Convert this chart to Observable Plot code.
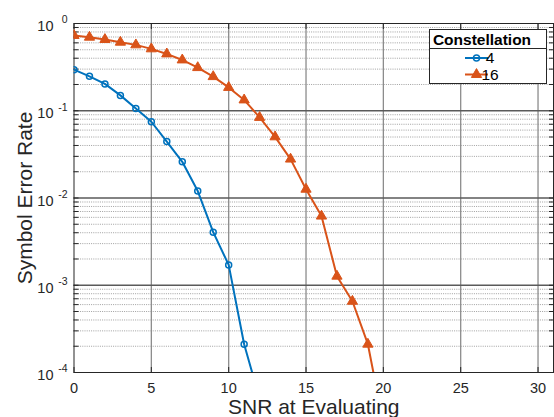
<!DOCTYPE html>
<html><head><meta charset="utf-8">
<script src="https://cdn.jsdelivr.net/npm/d3@7"></script>
<script src="https://cdn.jsdelivr.net/npm/@observablehq/plot@0.6"></script>
<style>body{margin:0;background:#fff} #chart{width:554px;height:417px}</style>
</head><body><div id="chart"></div>
<script>
const snr4 = [0,1,2,3,4,5,6,7,8,9,10,11,12];
const ser4 = [0.296,0.248,0.203,0.150,0.106,0.0748,0.0444,0.026,0.0120,0.00406,0.00171,0.000211,0.00005];
const snr16 = [0,1,2,3,4,5,6,7,8,9,10,11,12,13,14,15,16,17,18,19,20];
const ser16 = [0.728,0.696,0.655,0.61,0.569,0.512,0.448,0.382,0.312,0.246,0.185,0.133,0.0838,0.0502,0.0279,0.0126,0.0062,0.00127,0.000655,0.000211,0.000026];
const seriesNames = ["4","16"];
const colors = ["#0072BD","#D95319"];
const xTicks = [0,5,10,15,20,25,30];
const yExp = [-4,-3,-2,-1,0];
const yMajor = yExp.map(e => 10 ** e);
const minorMult = [2,3,4,5,6,7,8,9];
const yMinor = yExp.slice(0,-1).flatMap(e => minorMult.map(m => m * 10 ** e));
const xLabel = "SNR at Evaluating";
const yLabel = "Symbol Error Rate";
const legendTitle = "Constellation";

const d4 = snr4.map((x,i) => ({snr:x, ser:ser4[i], c:seriesNames[0]}));
const d16 = snr16.map((x,i) => ({snr:x, ser:ser16[i], c:seriesNames[1]}));
const data = [...d4, ...d16];
const ink = "#262626";
const font = "'Liberation Sans', Arial, Helvetica, sans-serif";

const plot = Plot.plot({
  width:554, height:417,
  marginLeft:73.5, marginRight:1, marginTop:23, marginBottom:45,
  style:{fontFamily:font, background:"#fff", color:ink},
  x:{domain:[0,31]},
  y:{type:"log", domain:[1e-4,1]},
  color:{domain:seriesNames, range:colors},
  marks:[
    Plot.ruleY(yMinor, {stroke:"#a0a0a0", strokeDasharray:"1,1.2", strokeWidth:1}),
    Plot.ruleX(xTicks.slice(1), {stroke:"#8c8c8c", strokeWidth:1.3}),
    Plot.ruleY(yMajor.slice(1,-1), {stroke:"#5a5a5a", strokeWidth:1.3}),
    Plot.axisX({ticks:xTicks, tickSize:0, tickPadding:10, fontSize:14.5, fill:ink, label:null}),
    Plot.axisX({ticks:xTicks, tickSize:-5, fill:"none", stroke:ink, label:null}),
    Plot.axisX({anchor:"top", ticks:xTicks, tickSize:-5, fill:"none", stroke:ink, label:null}),
    Plot.axisY({ticks:[...yMajor, ...yMinor], tickSize:-5, fill:"none", stroke:ink, label:null}),
    Plot.axisY({anchor:"right", ticks:[...yMajor, ...yMinor], tickSize:-5, fill:"none", stroke:ink, label:null}),
    Plot.text(yMajor, {y:d => d, frameAnchor:"left", text:() => "10", textAnchor:"end", dx:-20.5, dy:3, fontSize:14.5, fill:ink}),
    Plot.text(yMajor, {y:d => d, frameAnchor:"left", text:(d,i) => String(yExp[i]), textAnchor:"end", dx:-6.5, dy:-3.5, fontSize:10.5, fill:ink}),
    Plot.frame({stroke:ink}),
    Plot.line(data, {x:"snr", y:"ser", z:"c", stroke:"c", strokeWidth:2, clip:true}),
    Plot.dot(d4, {x:"snr", y:"ser", symbol:"circle", r:3, stroke:"c", strokeWidth:1.5, fill:"none", clip:true}),
    Plot.dot(d16, {x:"snr", y:"ser", symbol:"triangle", r:3.8, stroke:"c", fill:"c", strokeWidth:1, clip:true}),
    Plot.text([xLabel], {text:d => d, frameAnchor:"bottom", textAnchor:"middle", dy:35, fontSize:21, lineAnchor:"middle", fill:ink}),
    Plot.text([yLabel], {text:d => d, frameAnchor:"left", textAnchor:"middle", dx:-49, rotate:-90, fontSize:21, lineAnchor:"middle", fill:ink})
  ]
});

// legend
const svg = d3.select(plot);
const lg = svg.append("g").attr("font-family", font);
lg.append("rect").attr("x",429.5).attr("y",29.5).attr("width",117).attr("height",54)
  .attr("fill","#fff").attr("stroke",ink).attr("stroke-width",1);
lg.append("line").attr("x1",429.5).attr("x2",546.5).attr("y1",48.5).attr("y2",48.5)
  .attr("stroke",ink).attr("stroke-width",1);
lg.append("text").attr("x",482).attr("y",45).attr("text-anchor","middle")
  .attr("font-size",15.5).attr("font-weight","bold").attr("fill","#000").text(legendTitle);
const symbols = [d3.symbolCircle, d3.symbolTriangle];
const radii = [3, 3.8];
seriesNames.forEach((name, i) => {
  const y = 58 + i * 16.5;
  const g = lg.append("g");
  g.append("line").attr("x1",465).attr("x2",488).attr("y1",y).attr("y2",y)
    .attr("stroke",colors[i]).attr("stroke-width",2);
  g.append("path").attr("transform",`translate(476.5,${y})`)
    .attr("d", d3.symbol(symbols[i], Math.PI * radii[i] ** 2)())
    .attr("fill", i === 0 ? "none" : colors[i]).attr("stroke",colors[i]).attr("stroke-width", i === 0 ? 1.5 : 1);
  g.append("text").attr("x",490).attr("y",y).attr("dy","0.35em")
    .attr("font-size",15.5).attr("fill","#000").text(name);
});

document.getElementById("chart").appendChild(plot);
</script>
</body></html>
